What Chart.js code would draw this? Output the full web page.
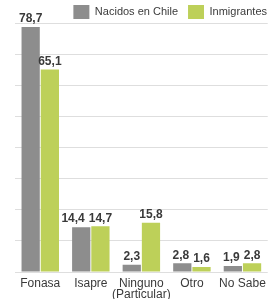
<!DOCTYPE html>
<html>
<head>
<meta charset="utf-8">
<script src="https://cdn.jsdelivr.net/npm/chart.js@4.4.1/dist/chart.umd.min.js"></script>
<style>
  html, body { margin: 0; padding: 0; background: #fff; }
  #wrap { width: 272px; height: 299px; }
</style>
</head>
<body>
<div id="wrap"><canvas id="chart"></canvas></div>
<script>
// datos: sistema de salud, % por grupo
const categorias = ['Fonasa', 'Isapre', ['Ninguno', '(Particular)'], 'Otro', 'No Sabe'];
const nacidosChile = [78.7, 14.4, 2.3, 2.8, 1.9];
const inmigrantes = [65.1, 14.7, 15.8, 1.6, 2.8];
const seriesNombres = ['Nacidos en Chile', 'Inmigrantes'];

const FONT = '"Liberation Sans", Arial, sans-serif';

// etiquetas con valores arriba de cada barra (si chocan, la gris se corre a la izquierda)
const valueLabels = {
    id: 'valueLabels',
    afterDatasetsDraw(chart) {
        const ctx = chart.ctx;
        ctx.save();
        ctx.font = 'bold 12px ' + FONT;
        ctx.fillStyle = '#3a3a3a';
        ctx.textAlign = 'center';
        ctx.textBaseline = 'bottom';
        const m0 = chart.getDatasetMeta(0).data;
        const m1 = chart.getDatasetMeta(1).data;
        m0.forEach((bar0, j) => {
            const bar1 = m1[j];
            const t0 = nacidosChile[j].toFixed(1).replace('.', ',');
            const t1 = inmigrantes[j].toFixed(1).replace('.', ',');
            const w0 = ctx.measureText(t0).width;
            const w1 = ctx.measureText(t1).width;
            let x0 = bar0.x;
            const overlap = (x0 + w0 / 2) - (bar1.x - w1 / 2) + 4;
            if (overlap > 0 && Math.abs(bar0.y - bar1.y) < 14) x0 -= overlap;
            ctx.fillText(t0, x0, bar0.y - 2);
            ctx.fillText(t1, bar1.x, bar1.y - 2);
        });
        ctx.restore();
    }
};

// altura fija para la leyenda y la corremos un poco a la derecha
const legendFix = {
    id: 'legendFix',
    afterInit(chart) {
        const lg = chart.legend;
        const fit = lg.fit.bind(lg);
        lg.fit = function () { fit(); this.height = 28; };
    },
    afterLayout(chart) {
        chart.legend.right += 7;
        chart.legend.width += 7;
    }
};

const ctx = document.getElementById('chart').getContext('2d');
new Chart(ctx, {
    type: 'bar',
    data: {
        labels: categorias,
        datasets: [{
            label: seriesNombres[0],
            data: nacidosChile,
            backgroundColor: '#8d8d8d',
            categoryPercentage: 0.76,
            barPercentage: 0.95
        }, {
            label: seriesNombres[1],
            data: inmigrantes,
            backgroundColor: '#bdd059',
            categoryPercentage: 0.76,
            barPercentage: 0.95
        }]
    },
    options: {
        responsive: true,
        maintainAspectRatio: false,
        animation: false,
        layout: {
            padding: { left: 15, right: 2, top: -5, bottom: 0 }
        },
        scales: {
            x: {
                grid: { display: false, drawTicks: false },
                border: { display: false },
                afterFit(scale) { scale.height = 27; },
                ticks: {
                    color: '#3a3a3a',
                    font: { family: FONT, size: 12, lineHeight: 0.95 },
                    padding: 6,
                    maxRotation: 0,
                    autoSkip: false
                }
            },
            y: {
                min: 0,
                max: 80,
                ticks: { display: false, stepSize: 10 },
                grid: { color: '#dedede', drawTicks: false },
                border: { display: false }
            }
        },
        plugins: {
            legend: {
                display: true,
                position: 'top',
                align: 'end',
                labels: {
                    boxWidth: 16,
                    boxHeight: 14,
                    color: '#3a3a3a',
                    padding: 10,
                    font: { family: FONT, size: 11 }
                }
            },
            tooltip: { enabled: false }
        }
    },
    plugins: [valueLabels, legendFix]
});
</script>
</body>
</html>
